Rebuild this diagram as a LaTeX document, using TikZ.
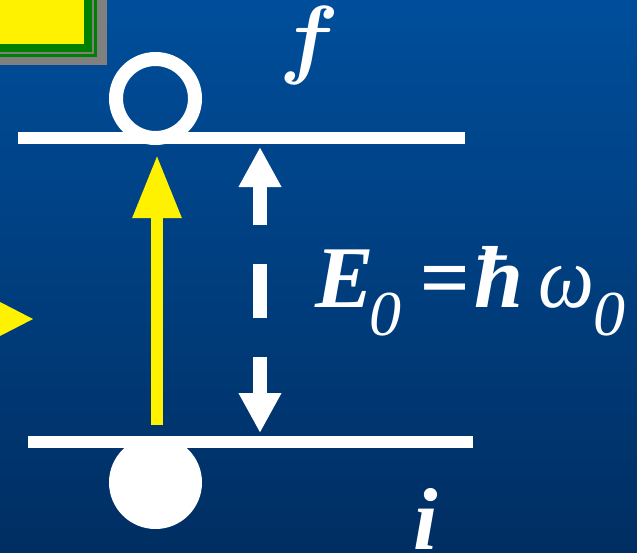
\documentclass[tikz,border=0pt]{standalone}
\usepackage{fontspec}
\setmainfont{Liberation Serif}
\usetikzlibrary{arrows.meta}

\definecolor{sfondoalto}{RGB}{0,78,155}
\definecolor{sfondobasso}{RGB}{0,46,98}
\definecolor{verdebordo}{RGB}{0,128,0}
\definecolor{grigiobordo}{RGB}{128,128,128}

\begin{document}
\begin{tikzpicture}[x=1pt, y=-1pt,
    livello/.style={white, line width=12pt},
    transizione/.style={yellow, line width=12pt, -{Triangle[width=46pt, length=63pt]}},
    energia/.style={white, line width=14pt,
        {Triangle[width=40pt, length=40pt]}-{Triangle[width=40pt, length=40pt]},
        dash pattern=on 40pt off 39pt on 54pt off 39pt on 40pt},
    etichetta/.style={white, inner sep=0pt, anchor=base west}]

    % Sfondo sfumato e riquadro della pagina
    \shade[top color=sfondoalto, bottom color=sfondobasso] (0,0) rectangle (637,552);
    \useasboundingbox (0,0) rectangle (637,552);

    % Riquadro giallo tagliato in alto a sinistra
    \fill[grigiobordo] (0,0) rectangle (107,65);
    \fill[verdebordo] (0,0) rectangle (96.5,57);
    \fill[grigiobordo] (0,0) rectangle (93.5,53.5);
    \fill[verdebordo] (0,0) rectangle (92,52);
    \fill[yellow] (0,0) rectangle (84,44);

    % Punta della freccia gialla sul bordo sinistro
    \fill[yellow] (0,302) -- (33,319) -- (0,336) -- cycle;

    % Estremi dei due livelli
    \coordinate (fsx) at (18,138);
    \coordinate (fdx) at (465,138);
    \coordinate (isx) at (28,442);
    \coordinate (idx) at (473,442);

    % 1. Stati: cerchio vuoto (f) e cerchio pieno (i)
    % Disegnati prima così le linee dei livelli li coprono
    \node[circle, draw=white, line width=14pt, minimum size=79pt, inner sep=0pt] (vuoto) at (155.5,98.5) {};
    \node[circle, fill=white, minimum size=93pt, inner sep=0pt] (pieno) at (155.5,482.5) {};

    % Livelli energetici
    \draw[livello] (fsx) -- (fdx);
    \draw[livello] (isx) -- (idx);

    % Transizione (freccia gialla)
    \coordinate (partenza) at (157,425);
    \coordinate (arrivo) at (157,155);
    \draw[transizione] (partenza) -- (arrivo);

    % Differenza di energia (freccia tratteggiata)
    \coordinate (sopra) at (260,147);
    \coordinate (sotto) at (260,433);
    \draw[energia] (sopra) -- (sotto);

    % Etichette
    \node[etichetta] (fnome) at (279,67) {\scalebox{8.8}{\boldmath$f$}};
    \node[etichetta] (inome) at (413,549) {\fontsize{88}{88}\selectfont\bfseries\itshape i};
    \node[etichetta] (formula) at (315,307) {\fontsize{88}{88}\selectfont\bfseries\itshape
        E\kern-4pt\raisebox{-28pt}{\fontsize{64}{64}\selectfont\mdseries 0}%
        \kern18pt=\kern5pt ħ\kern15pt\scalebox{0.9}[1]{\mdseries ω}%
        \kern-1pt\raisebox{-28pt}{\fontsize{64}{64}\selectfont\mdseries 0}};

\end{tikzpicture}
\end{document}
